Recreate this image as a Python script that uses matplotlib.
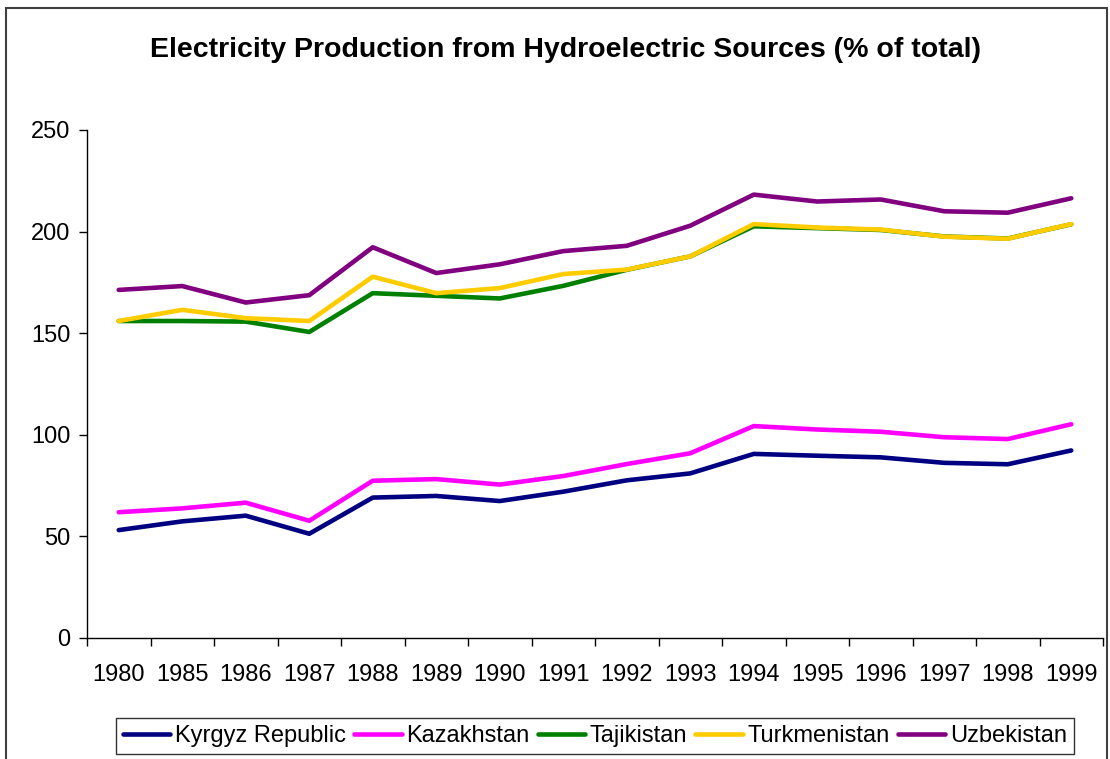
import matplotlib
matplotlib.use('Agg')
import matplotlib.pyplot as plt
from matplotlib.patches import Rectangle

# 年份（类别轴）
years = ['1980', '1985', '1986', '1987', '1988', '1989', '1990', '1991',
         '1992', '1993', '1994', '1995', '1996', '1997', '1998', '1999']

# 各国数值
kyrgyz       = [53.1, 57.4, 60.2, 51.3, 69.1, 69.9, 67.4, 72.0,
                77.6, 81.0, 90.6, 89.7, 88.9, 86.2, 85.5, 92.3]
kazakhstan   = [61.9, 63.8, 66.6, 57.7, 77.4, 78.2, 75.5, 79.7,
                85.6, 90.9, 104.3, 102.6, 101.5, 98.8, 97.9, 105.2]
tajikistan   = [156.0, 156.0, 155.7, 150.6, 169.7, 168.4, 167.1, 173.3,
                181.2, 187.8, 202.6, 201.7, 200.8, 197.6, 196.6, 203.6]
turkmenistan = [156.0, 161.5, 157.4, 156.0, 177.8, 169.7, 172.2, 179.1,
                181.3, 187.8, 203.7, 202.0, 201.0, 197.5, 196.5, 203.7]
uzbekistan   = [171.3, 173.2, 165.1, 168.7, 192.3, 179.6, 183.9, 190.4,
                193.0, 202.9, 218.2, 214.8, 215.8, 210.0, 209.3, 216.4]

series = [
    ('Kyrgyz Republic', kyrgyz, '#000080'),
    ('Kazakhstan', kazakhstan, '#FF00FF'),
    ('Tajikistan', tajikistan, '#008000'),
    ('Turkmenistan', turkmenistan, '#FFCC00'),
    ('Uzbekistan', uzbekistan, '#800080'),
]

plt.rcParams['font.family'] = ['Liberation Sans', 'DejaVu Sans']

fig = plt.figure(figsize=(11.1, 7.59), dpi=100)
ax = fig.add_axes([87 / 1110, 1 - 638 / 759, (1103 - 87) / 1110, (638 - 130) / 759])

x = list(range(len(years)))
for name, vals, color in series:
    ax.plot(x, vals, color=color, lw=3.3, label=name, solid_capstyle='round')

# 坐标轴
ax.set_xlim(-0.5, len(years) - 0.5)
ax.set_ylim(0, 250)
ax.set_yticks([0, 50, 100, 150, 200, 250])
ax.set_xticks(x)
ax.set_xticklabels(years)
ax.set_xticks([i - 0.5 for i in range(len(years) + 1)], minor=True)
ax.tick_params(axis='x', which='major', length=0, pad=19, labelsize=17)
ax.tick_params(axis='x', which='minor', length=6, width=1, direction='out')
ax.tick_params(axis='y', length=6, width=1, direction='out', pad=6, labelsize=17)
ax.spines['top'].set_visible(False)
ax.spines['right'].set_visible(False)
for s in ['left', 'bottom']:
    ax.spines[s].set_linewidth(1)

# 标题
fig.text(566 / 1110, 1 - 50 / 759,
         'Electricity Production from Hydroelectric Sources (% of total)',
         ha='center', va='center', fontsize=20.5, fontweight='bold')

# 图例
leg = fig.legend(loc='center', bbox_to_anchor=(595 / 1110, 1 - 736 / 759),
                 ncol=5, fontsize=17, frameon=True, fancybox=False,
                 handlelength=2.0, handletextpad=0.2, columnspacing=0.35,
                 borderpad=0.3, borderaxespad=0, edgecolor='black')
leg.get_frame().set_linewidth(1)

# 外框
fig.patches.append(Rectangle((6 / 1110, -0.01), 1101 / 1110, 1 - 8 / 759 + 0.01,
                             transform=fig.transFigure, fill=False,
                             edgecolor='#404040', lw=1.5))

fig.savefig('out.png', dpi=100)
